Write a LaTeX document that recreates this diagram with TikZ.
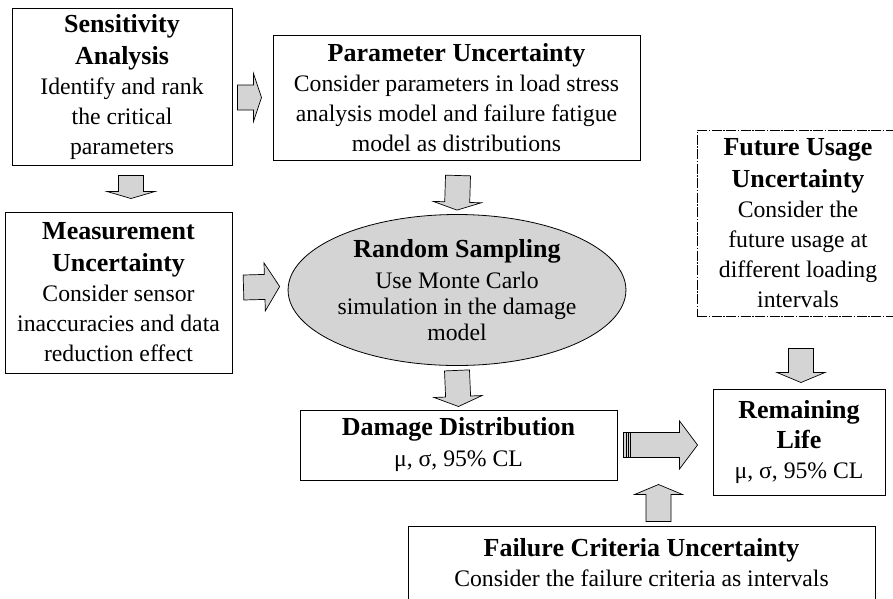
\documentclass[tikz,border=0pt]{standalone}
\usepackage{fontspec}
\setmainfont{Liberation Serif}
\usepackage{tikz}
\usetikzlibrary{shapes, calc, positioning}
\definecolor{fillgray}{gray}{0.83}
\newcommand{\ttl}[1]{{\fontsize{26}{30}\selectfont\bfseries #1}}
\tikzset{
    block/.style={
        rectangle, draw, line width=1pt, inner sep=0pt,
        align=center, font=\fontsize{23.7}{30}\selectfont
    },
    sampler/.style={
        ellipse, draw, line width=0.8pt, fill=fillgray, inner sep=0pt,
        align=center, font=\fontsize{23.7}{26}\selectfont
    },
    % block arrow between two points, #1 = head length
    fat/.style={
        draw, line width=0.7pt, fill=fillgray,
        to path={(\tikztostart) coordinate (fs) (\tikztotarget) coordinate (ft)
            ($(fs)!12.5pt!90:(ft)$)
            -- ($(ft)!#1!(fs)!12.5pt!90:(ft)$)
            -- ($(ft)!#1!(fs)!24pt!90:(ft)$)
            -- (ft)
            -- ($(ft)!#1!(fs)!24pt!-90:(ft)$)
            -- ($(ft)!#1!(fs)!12.5pt!-90:(ft)$)
            -- ($(fs)!12.5pt!-90:(ft)$) -- cycle}
    },
    fat/.default=10pt
}

\begin{document}
\begin{tikzpicture}[x=1pt, y=-1pt]
    \useasboundingbox (0,0) rectangle (893,598);

    % Nodes
    \node [block, minimum width=220pt, minimum height=157pt] (sens) at (122,86.5)
        {\ttl{Sensitivity}\\[2pt]\ttl{Analysis}\\Identify and rank\\the critical\\parameters};
    \node [block, minimum width=367pt, minimum height=125pt] (param) at (456.5,97.5)
        {\ttl{Parameter Uncertainty}\\Consider parameters in load stress\\analysis model and failure fatigue\\model as distributions};
    \node [block, minimum width=202pt, minimum height=186pt,
           dash pattern=on 10pt off 1.5pt on 1.5pt off 1.5pt] (future) at (798,223)
        {\ttl{Future Usage}\\[2pt]\ttl{Uncertainty}\\Consider the\\future usage at\\different loading\\intervals};
    \node [block, minimum width=227pt, minimum height=161pt] (meas) at (118.5,292.5)
        {\ttl{Measurement}\\[2pt]\ttl{Uncertainty}\\Consider sensor\\inaccuracies and data\\reduction effect};
    \node [sampler, minimum width=302pt, minimum height=151pt] (rs) at (457,290)
        {\ttl{Random Sampling}\\[5pt]Use Monte Carlo\\simulation in the damage\\model};
    \node [block, minimum width=317pt, minimum height=70pt] (dmg) at (458.5,445)
        {\ttl{Damage Distribution}\\[1pt]μ, σ, 95\% CL};
    \node [block, minimum width=172pt, minimum height=106pt] (life) at (799,442)
        {\ttl{Remaining}\\\ttl{Life}\\μ, σ, 95\% CL};
    \node [block, minimum width=467pt, minimum height=74pt] (fail) at (641.5,563)
        {\ttl{Failure Criteria Uncertainty}\\Consider the failure criteria as intervals};

    % Block arrows
    \draw [fat=8pt] ($(sens.east |- param.west)+(5,0)$) to ([xshift=-11pt]param.west);
    \draw [fat=7pt] ([xshift=9pt, yshift=-10pt]sens.south) to ([xshift=12.5pt, yshift=13pt]meas.north);
    \draw [fat=8pt] ([xshift=1.5pt, yshift=-15pt]param.south) to ([yshift=4pt]rs.north);
    \draw [fat=15pt] ([xshift=11pt, yshift=5pt]meas.east) to ([xshift=-8pt, yshift=3.5pt]rs.west);
    \draw [fat=10pt] ([yshift=-4.5pt]rs.south) to ([yshift=3pt]dmg.north);
    \draw [fat=18pt] ([xshift=6pt]dmg.east) to ($(life.west |- dmg.east)+(-15,0)$);
    \foreach \s in {9,11,13}
        \draw [line width=0.6pt] ([xshift=\s pt, yshift=12.5pt]dmg.east) -- ([xshift=\s pt, yshift=-12.5pt]dmg.east);
    \draw [fat=10pt] ([xshift=3pt, yshift=-32pt]future.south) to ([xshift=2pt, yshift=6pt]life.north);
    \draw [fat=10pt] ([xshift=17pt, yshift=4pt]fail.north) to ([xshift=17pt, yshift=41pt]fail.north);
\end{tikzpicture}
\end{document}
